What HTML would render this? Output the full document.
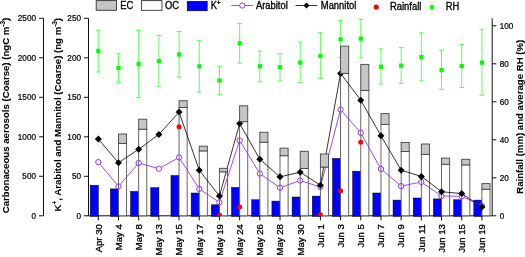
<!DOCTYPE html><html><head><meta charset="utf-8"><title>chart</title><style>html,body{margin:0;padding:0;background:#fff;overflow:hidden}svg{display:block;will-change:transform}text{font-family:"Liberation Sans",sans-serif;fill:#000;stroke:#000;stroke-width:0.22px}.t{font-size:8.2px}.x{font-size:8.5px;stroke-width:0.3px}.l{font-size:9.4px;stroke-width:0.3px}.b{font-size:9.65px;font-weight:bold;stroke-width:0.08px}</style></head><body>
<svg width="525" height="257" viewBox="0 0 525 257">
<rect width="525" height="257" fill="#fff"/>
<path d="M88.5 215.8H492.2" stroke="#111" stroke-width="1"/>
<clipPath id="cp"><rect x="88" y="0" width="405" height="215.8"/></clipPath>
<g fill="#0000ff" stroke="#000" stroke-width="0.5"><rect x="90.20" y="185.2" width="8.1" height="31.10"/><rect x="110.39" y="188.9" width="8.1" height="27.40"/><rect x="130.58" y="191.4" width="8.1" height="24.90"/><rect x="150.77" y="187.7" width="8.1" height="28.60"/><rect x="170.96" y="175.5" width="8.1" height="40.80"/><rect x="191.15" y="193" width="8.1" height="23.30"/><rect x="211.34" y="204.8" width="8.1" height="11.50"/><rect x="231.53" y="187.4" width="8.1" height="28.90"/><rect x="251.72" y="199.8" width="8.1" height="16.50"/><rect x="271.91" y="201.1" width="8.1" height="15.20"/><rect x="292.10" y="197" width="8.1" height="19.30"/><rect x="312.29" y="196.1" width="8.1" height="20.20"/><rect x="332.48" y="158.4" width="8.1" height="57.90"/><rect x="352.67" y="171.2" width="8.1" height="45.10"/><rect x="372.86" y="193" width="8.1" height="23.30"/><rect x="393.05" y="200.1" width="8.1" height="16.20"/><rect x="413.24" y="198" width="8.1" height="18.30"/><rect x="433.43" y="198.9" width="8.1" height="17.40"/><rect x="453.62" y="199.8" width="8.1" height="16.50"/><rect x="473.81" y="200.1" width="8.1" height="16.20"/></g>
<g stroke="#555" stroke-width="0.9"><rect x="118.49" y="143.4" width="8.1" height="72.40" fill="#fff"/><rect x="138.68" y="129.2" width="8.1" height="86.60" fill="#fff"/><rect x="179.06" y="107.5" width="8.1" height="108.30" fill="#fff"/><rect x="199.25" y="150.9" width="8.1" height="64.90" fill="#fff"/><rect x="219.44" y="171.8" width="8.1" height="44.00" fill="#fff"/><rect x="239.63" y="121.7" width="8.1" height="94.10" fill="#fff"/><rect x="259.82" y="142.2" width="8.1" height="73.60" fill="#fff"/><rect x="280.01" y="155.7" width="8.1" height="60.10" fill="#fff"/><rect x="300.20" y="168.4" width="8.1" height="47.40" fill="#fff"/><rect x="320.39" y="167.1" width="8.1" height="48.70" fill="#fff"/><rect x="340.58" y="73.4" width="8.1" height="142.40" fill="#fff"/><rect x="360.77" y="90.4" width="8.1" height="125.40" fill="#fff"/><rect x="380.96" y="124.5" width="8.1" height="91.30" fill="#fff"/><rect x="401.15" y="151.5" width="8.1" height="64.30" fill="#fff"/><rect x="421.34" y="154.3" width="8.1" height="61.50" fill="#fff"/><rect x="441.53" y="164.3" width="8.1" height="51.50" fill="#fff"/><rect x="461.72" y="164.9" width="8.1" height="50.90" fill="#fff"/><rect x="481.91" y="189.2" width="8.1" height="26.60" fill="#fff"/></g>
<g stroke="#33ff33" stroke-width="0.8" fill="none"><path d="M98.30 30.2V72M95.80 30.2h5M95.80 72h5"/><path d="M118.49 53.6V82.7M115.99 53.6h5M115.99 82.7h5"/><path d="M138.68 30.5V97.7M136.18 30.5h5M136.18 97.7h5"/><path d="M158.87 35.5V86.8M156.37 35.5h5M156.37 86.8h5"/><path d="M179.06 31.5V77.1M176.56 31.5h5M176.56 77.1h5"/><path d="M199.25 40.5V92.1M196.75 40.5h5M196.75 92.1h5"/><path d="M219.44 66.4V94.6M216.94 66.4h5M216.94 94.6h5"/><path d="M239.63 23.4V63.1M237.13 23.4h5M237.13 63.1h5"/><path d="M259.82 51.1V81.8M257.32 51.1h5M257.32 81.8h5"/><path d="M280.01 53.6V80.9M277.51 53.6h5M277.51 80.9h5"/><path d="M300.20 42V82.7M297.70 42h5M297.70 82.7h5"/><path d="M320.39 32.4V78.6M317.89 32.4h5M317.89 78.6h5"/><path d="M340.58 20.6V57.5M338.08 20.6h5M338.08 57.5h5"/><path d="M360.77 19.3V58M358.27 19.3h5M358.27 58h5"/><path d="M380.96 48.9V84M378.46 48.9h5M378.46 84h5"/><path d="M401.15 47.4V83.4M398.65 47.4h5M398.65 83.4h5"/><path d="M421.34 32.7V80.9M418.84 32.7h5M418.84 80.9h5"/><path d="M441.53 50.3V89.3M439.03 50.3h5M439.03 89.3h5"/><path d="M461.72 44.5V87.4M459.22 44.5h5M459.22 87.4h5"/><path d="M481.91 29.3V95.2M479.41 29.3h5M479.41 95.2h5"/></g>
<g fill="#00ff00"><rect x="96.20" y="48.70" width="4.2" height="4.2"/><rect x="116.39" y="65.90" width="4.2" height="4.2"/><rect x="136.58" y="62.00" width="4.2" height="4.2"/><rect x="156.77" y="59.00" width="4.2" height="4.2"/><rect x="176.96" y="52.40" width="4.2" height="4.2"/><rect x="197.15" y="64.20" width="4.2" height="4.2"/><rect x="217.34" y="78.40" width="4.2" height="4.2"/><rect x="237.53" y="41.20" width="4.2" height="4.2"/><rect x="257.72" y="64.20" width="4.2" height="4.2"/><rect x="277.91" y="65.10" width="4.2" height="4.2"/><rect x="298.10" y="60.50" width="4.2" height="4.2"/><rect x="318.29" y="53.70" width="4.2" height="4.2"/><rect x="338.48" y="37.20" width="4.2" height="4.2"/><rect x="358.67" y="36.50" width="4.2" height="4.2"/><rect x="378.86" y="64.60" width="4.2" height="4.2"/><rect x="399.05" y="63.60" width="4.2" height="4.2"/><rect x="419.24" y="54.90" width="4.2" height="4.2"/><rect x="439.43" y="68.00" width="4.2" height="4.2"/><rect x="459.62" y="64.00" width="4.2" height="4.2"/><rect x="479.81" y="60.50" width="4.2" height="4.2"/></g>
<path d="M99.99 164.14L116.80 184.36M120.22 184.39L136.95 165.01M141.23 163.72L156.32 167.98M161.18 167.41L176.75 158.69M180.49 159.63L197.82 186.67M201.46 190.37L217.23 200.83M220.26 199.78L238.81 142.92M241.01 142.66L258.44 171.34M261.99 175.12L277.84 186.18M282.51 186.81L297.70 181.39M302.72 181.31L317.87 186.19M321.06 184.44L339.91 112.06M342.31 111.51L359.04 130.89M362.06 135.21L379.67 166.69M382.98 170.71L399.13 184.39M403.75 185.57L418.74 182.53M423.52 183.51L439.35 194.49M444.18 196.04L459.07 196.26M464.11 197.45L479.52 204.85" fill="none" stroke="#9933ff" stroke-width="0.9"/>
<g fill="none" stroke="#9933ff" stroke-width="1"><circle cx="98.30" cy="162.1" r="2.65"/><circle cx="118.49" cy="186.4" r="2.65"/><circle cx="138.68" cy="163" r="2.65"/><circle cx="158.87" cy="168.7" r="2.65"/><circle cx="179.06" cy="157.4" r="2.65"/><circle cx="199.25" cy="188.9" r="2.65"/><circle cx="219.44" cy="202.3" r="2.65"/><circle cx="239.63" cy="140.4" r="2.65"/><circle cx="259.82" cy="173.6" r="2.65"/><circle cx="280.01" cy="187.7" r="2.65"/><circle cx="300.20" cy="180.5" r="2.65"/><circle cx="320.39" cy="187" r="2.65"/><circle cx="340.58" cy="109.5" r="2.65"/><circle cx="360.77" cy="132.9" r="2.65"/><circle cx="380.96" cy="169" r="2.65"/><circle cx="401.15" cy="186.1" r="2.65"/><circle cx="421.34" cy="182" r="2.65"/><circle cx="441.53" cy="196" r="2.65"/><circle cx="461.72" cy="196.3" r="2.65"/><circle cx="481.91" cy="206" r="2.65"/></g>
<polyline points="98.30,139.1 118.49,162.7 138.68,149.3 158.87,134.4 179.06,112.1 199.25,170.2 219.44,196 239.63,123.5 259.82,159.3 280.01,176.8 300.20,172.2 320.39,185.2 340.58,73.4 360.77,100.2 380.96,135.8 401.15,170.2 421.34,176.4 441.53,191.7 461.72,193.6 481.91,207" fill="none" stroke="#000" stroke-width="0.8"/>
<g fill="#000"><path d="M98.30 135.60L101.80 139.1L98.30 142.60L94.80 139.1Z"/><path d="M118.49 159.20L121.99 162.7L118.49 166.20L114.99 162.7Z"/><path d="M138.68 145.80L142.18 149.3L138.68 152.80L135.18 149.3Z"/><path d="M158.87 130.90L162.37 134.4L158.87 137.90L155.37 134.4Z"/><path d="M179.06 108.60L182.56 112.1L179.06 115.60L175.56 112.1Z"/><path d="M199.25 166.70L202.75 170.2L199.25 173.70L195.75 170.2Z"/><path d="M219.44 192.50L222.94 196L219.44 199.50L215.94 196Z"/><path d="M239.63 120.00L243.13 123.5L239.63 127.00L236.13 123.5Z"/><path d="M259.82 155.80L263.32 159.3L259.82 162.80L256.32 159.3Z"/><path d="M280.01 173.30L283.51 176.8L280.01 180.30L276.51 176.8Z"/><path d="M300.20 168.70L303.70 172.2L300.20 175.70L296.70 172.2Z"/><path d="M320.39 181.70L323.89 185.2L320.39 188.70L316.89 185.2Z"/><path d="M340.58 69.90L344.08 73.4L340.58 76.90L337.08 73.4Z"/><path d="M360.77 96.70L364.27 100.2L360.77 103.70L357.27 100.2Z"/><path d="M380.96 132.30L384.46 135.8L380.96 139.30L377.46 135.8Z"/><path d="M401.15 166.70L404.65 170.2L401.15 173.70L397.65 170.2Z"/><path d="M421.34 172.90L424.84 176.4L421.34 179.90L417.84 176.4Z"/><path d="M441.53 188.20L445.03 191.7L441.53 195.20L438.03 191.7Z"/><path d="M461.72 190.10L465.22 193.6L461.72 197.10L458.22 193.6Z"/><path d="M481.91 203.50L485.41 207L481.91 210.50L478.41 207Z"/></g>
<g fill="#ff0000" clip-path="url(#cp)"><circle cx="179.06" cy="126.7" r="2.5"/><circle cx="219.44" cy="215.0" r="2.5"/><circle cx="239.63" cy="207" r="2.5"/><circle cx="320.39" cy="214.8" r="2.5"/><circle cx="340.58" cy="190.8" r="2.5"/><circle cx="360.77" cy="142.2" r="2.5"/></g>
<g stroke="#444" stroke-width="0.9" fill="#c6c6c6"><rect x="118.49" y="134" width="8.1" height="9.40"/><rect x="138.68" y="119.2" width="8.1" height="10.00"/><rect x="179.06" y="100.7" width="8.1" height="6.80"/><rect x="199.25" y="146.2" width="8.1" height="4.70"/><rect x="219.44" y="168.3" width="8.1" height="3.50"/><rect x="239.63" y="105.8" width="8.1" height="15.90"/><rect x="259.82" y="132.3" width="8.1" height="9.90"/><rect x="280.01" y="148.1" width="8.1" height="7.60"/><rect x="300.20" y="151.3" width="8.1" height="17.10"/><rect x="320.39" y="154" width="8.1" height="13.10"/><rect x="340.58" y="46.1" width="8.1" height="27.30"/><rect x="360.77" y="64.4" width="8.1" height="26.00"/><rect x="380.96" y="113.6" width="8.1" height="10.90"/><rect x="401.15" y="142.5" width="8.1" height="9.00"/><rect x="421.34" y="144" width="8.1" height="10.30"/><rect x="441.53" y="158.1" width="8.1" height="6.20"/><rect x="461.72" y="159.3" width="8.1" height="5.60"/><rect x="481.91" y="183.6" width="8.1" height="5.60"/></g>
<g stroke="#111" stroke-width="1" fill="none"><path d="M43.5 18.3V215.8"/><path d="M88.5 18.3V215.8"/><path d="M492.2 18.3V215.8"/><path d="M39.1 215.80H43.5"/><path d="M83.9 215.80H88.5"/><path d="M492.2 215.80H496.4"/><path d="M39.1 176.30H43.5"/><path d="M83.9 176.30H88.5"/><path d="M492.2 177.80H496.4"/><path d="M39.1 136.80H43.5"/><path d="M83.9 136.80H88.5"/><path d="M492.2 139.80H496.4"/><path d="M39.1 97.30H43.5"/><path d="M83.9 97.30H88.5"/><path d="M492.2 101.80H496.4"/><path d="M39.1 57.80H43.5"/><path d="M83.9 57.80H88.5"/><path d="M492.2 63.80H496.4"/><path d="M39.1 18.30H43.5"/><path d="M83.9 18.30H88.5"/><path d="M492.2 25.80H496.4"/><path d="M98.30 215.8V220.4"/><path d="M118.49 215.8V220.4"/><path d="M138.68 215.8V220.4"/><path d="M158.87 215.8V220.4"/><path d="M179.06 215.8V220.4"/><path d="M199.25 215.8V220.4"/><path d="M219.44 215.8V220.4"/><path d="M239.63 215.8V220.4"/><path d="M259.82 215.8V220.4"/><path d="M280.01 215.8V220.4"/><path d="M300.20 215.8V220.4"/><path d="M320.39 215.8V220.4"/><path d="M340.58 215.8V220.4"/><path d="M360.77 215.8V220.4"/><path d="M380.96 215.8V220.4"/><path d="M401.15 215.8V220.4"/><path d="M421.34 215.8V220.4"/><path d="M441.53 215.8V220.4"/><path d="M461.72 215.8V220.4"/><path d="M481.91 215.8V220.4"/></g>
<text class="t" transform="translate(36.00,218.70) scale(1.0,1.05)" text-anchor="end">0</text><text class="t" transform="translate(81.00,218.70) scale(1.0,1.05)" text-anchor="end">0</text><text class="t" transform="translate(499.70,218.70) scale(1.0,1.05)">0</text><text class="t" transform="translate(36.00,179.20) scale(1.0,1.05)" text-anchor="end">500</text><text class="t" transform="translate(81.00,179.20) scale(1.0,1.05)" text-anchor="end">50</text><text class="t" transform="translate(499.70,180.70) scale(1.0,1.05)">20</text><text class="t" transform="translate(36.00,139.70) scale(1.0,1.05)" text-anchor="end">1000</text><text class="t" transform="translate(81.00,139.70) scale(1.0,1.05)" text-anchor="end">100</text><text class="t" transform="translate(499.70,142.70) scale(1.0,1.05)">40</text><text class="t" transform="translate(36.00,100.20) scale(1.0,1.05)" text-anchor="end">1500</text><text class="t" transform="translate(81.00,100.20) scale(1.0,1.05)" text-anchor="end">150</text><text class="t" transform="translate(499.70,104.70) scale(1.0,1.05)">60</text><text class="t" transform="translate(36.00,60.70) scale(1.0,1.05)" text-anchor="end">2000</text><text class="t" transform="translate(81.00,60.70) scale(1.0,1.05)" text-anchor="end">200</text><text class="t" transform="translate(499.70,66.70) scale(1.0,1.05)">80</text><text class="t" transform="translate(36.00,21.20) scale(1.0,1.05)" text-anchor="end">2500</text><text class="t" transform="translate(81.00,21.20) scale(1.0,1.05)" text-anchor="end">250</text><text class="t" transform="translate(499.70,28.70) scale(1.0,1.05)">100</text><text class="x" transform="translate(101.60,224.20) rotate(-90) scale(1.125,1.0)" text-anchor="end">Apr 30</text><text class="x" transform="translate(121.79,224.20) rotate(-90) scale(1.125,1.0)" text-anchor="end">May 4</text><text class="x" transform="translate(141.98,224.20) rotate(-90) scale(1.125,1.0)" text-anchor="end">May 8</text><text class="x" transform="translate(162.17,224.20) rotate(-90) scale(1.125,1.0)" text-anchor="end">May 13</text><text class="x" transform="translate(182.36,224.20) rotate(-90) scale(1.125,1.0)" text-anchor="end">May 15</text><text class="x" transform="translate(202.55,224.20) rotate(-90) scale(1.125,1.0)" text-anchor="end">May 17</text><text class="x" transform="translate(222.74,224.20) rotate(-90) scale(1.125,1.0)" text-anchor="end">May 19</text><text class="x" transform="translate(242.93,224.20) rotate(-90) scale(1.125,1.0)" text-anchor="end">May 24</text><text class="x" transform="translate(263.12,224.20) rotate(-90) scale(1.125,1.0)" text-anchor="end">May 26</text><text class="x" transform="translate(283.31,224.20) rotate(-90) scale(1.125,1.0)" text-anchor="end">May 28</text><text class="x" transform="translate(303.50,224.20) rotate(-90) scale(1.125,1.0)" text-anchor="end">May 30</text><text class="x" transform="translate(323.69,224.20) rotate(-90) scale(1.125,1.0)" text-anchor="end">Jun 1</text><text class="x" transform="translate(343.88,224.20) rotate(-90) scale(1.125,1.0)" text-anchor="end">Jun 3</text><text class="x" transform="translate(364.07,224.20) rotate(-90) scale(1.125,1.0)" text-anchor="end">Jun 5</text><text class="x" transform="translate(384.26,224.20) rotate(-90) scale(1.125,1.0)" text-anchor="end">Jun 7</text><text class="x" transform="translate(404.45,224.20) rotate(-90) scale(1.125,1.0)" text-anchor="end">Jun 9</text><text class="x" transform="translate(424.64,224.20) rotate(-90) scale(1.125,1.0)" text-anchor="end">Jun 11</text><text class="x" transform="translate(444.83,224.20) rotate(-90) scale(1.125,1.0)" text-anchor="end">Jun 13</text><text class="x" transform="translate(465.02,224.20) rotate(-90) scale(1.125,1.0)" text-anchor="end">Jun 15</text><text class="x" transform="translate(485.21,224.20) rotate(-90) scale(1.125,1.0)" text-anchor="end">Jun 19</text>
<text class="b" transform="translate(9.1,213.3) rotate(-90)">Carbonaceous aerosols (Coarse) (ngC m<tspan dy="-4.3" font-size="6.3px">-3</tspan><tspan dy="4.3">)</tspan></text>
<text class="b" transform="translate(61.2,211.4) rotate(-90)">K<tspan dy="-4.3" font-size="6.3px">+</tspan><tspan dy="4.3">, Arabitol and Mannitol (Coarse) (ng m</tspan><tspan dy="-4.3" font-size="6.3px">-3</tspan><tspan dy="4.3">)</tspan></text>
<text class="b" transform="translate(523.1,193.8) rotate(-90)">Rainfall (mm) and average RH (%)</text>
<rect x="96.2" y="0.6" width="20.3" height="9.7" fill="#c4c4c4" stroke="#333" stroke-width="0.9"/><text class="l" transform="translate(120.30,8.50) scale(1.0,1.09)">EC</text><rect x="141.5" y="0.6" width="20.5" height="9.7" fill="#fff" stroke="#333" stroke-width="0.9"/><text class="l" transform="translate(165.00,8.50) scale(1.0,1.09)">OC</text><rect x="187.2" y="1.3" width="20" height="9.5" fill="#0000ff" stroke="#000" stroke-width="0.6"/><text class="l" transform="translate(210.70,8.50) scale(1.0,1.09)">K<tspan dy="-3.2" font-size="6px">+</tspan></text><path d="M231.4 5.5H239.65M244.95 5.5H253" stroke="#9933ff" stroke-width="0.9"/><circle cx="242.3" cy="5.5" r="2.65" fill="none" stroke="#9933ff" stroke-width="1"/><text class="l" transform="translate(255.90,8.60) scale(1.0,1.09)">Arabitol</text><path d="M295.6 5.5H317.3" stroke="#000" stroke-width="0.8"/><path d="M306.5 2.5L309.5 5.5L306.5 8.5L303.5 5.5Z" fill="#000"/><text class="l" transform="translate(320.80,8.70) scale(1.0,1.09)">Mannitol</text><circle cx="376.2" cy="7.1" r="2.6" fill="#ff0000"/><text class="l" transform="translate(390.00,10.40) scale(1.0,1.09)">Rainfall</text><rect x="430" y="5.1" width="4" height="4" fill="#00ff00"/><text class="l" transform="translate(445.70,10.40) scale(1.0,1.09)">RH</text>
</svg></body></html>
